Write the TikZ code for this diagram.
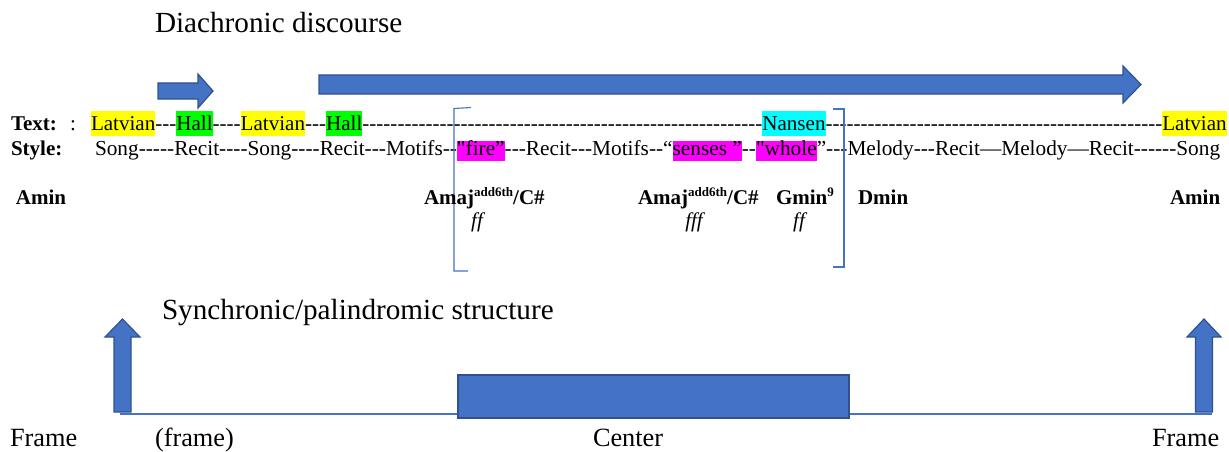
\documentclass[tikz,border=0pt]{standalone}
\usepackage{fontspec}
\setmainfont{Liberation Serif}[Ligatures={TeXOff,CommonOff}]
\definecolor{blu}{HTML}{4472C4}
\definecolor{bluedge}{HTML}{2F528F}
\definecolor{hlY}{HTML}{FFFF00}
\definecolor{hlG}{HTML}{00FF00}
\definecolor{hlC}{HTML}{00FFFF}
\definecolor{hlM}{HTML}{FF00FF}
\ExplSyntaxOn
\cs_new:Npn \myhy #1 {\prg_replicate:nn{#1}{-}}
\ExplSyntaxOff
\newcommand\hlT[2]{{\setlength\fboxsep{0pt}\colorbox{#1}{\rule[-5.2pt]{0pt}{25pt}#2}}}
\newcommand\hlS[2]{{\setlength\fboxsep{0pt}\colorbox{#1}{\rule[-5.5pt]{0pt}{20pt}#2}}}
\newcommand\supx[1]{\raisebox{8pt}{\fontsize{13}{13}\selectfont #1}}
\tikzset{
  txt/.style={anchor=base west, inner sep=0pt, outer sep=0pt},
  rowT/.style={txt, font=\fontsize{21.07}{25}\selectfont},
  rowS/.style={txt, font=\fontsize{21.3}{25}\selectfont},
  lab/.style={txt, font=\fontsize{21}{25}\selectfont\bfseries},
  dyn/.style={anchor=base, inner sep=0pt, font=\fontsize{21}{25}\selectfont\itshape},
  title/.style={txt, font=\fontsize{29.2}{34}\selectfont},
  foot/.style={txt, font=\fontsize{26.3}{30}\selectfont},
  blk/.style={fill=blu, draw=bluedge, line width=1.2pt, line join=miter},
  brk/.style={draw=blu, line width=1.1pt},
  baseline/.style={draw=blu, line width=2pt}
}
\begin{document}
\begin{tikzpicture}[x=1pt,y=-1pt]
\useasboundingbox (0,0) rectangle (1229,452);
% titles
\node[title] (dia) at (155,33) {Diachronic discourse};
\node[title] (syn) at (162,319) {Synchronic/palindromic structure};
% top arrows
\draw[blk] (158,83) -- (198,83) -- (198,74) -- (213,91) -- (198,108) -- (198,99) -- (158,99) -- cycle;
\draw[blk] (319,75) -- (1123,75) -- (1123,66) -- (1141,84.5) -- (1123,103) -- (1123,94) -- (319,94) -- cycle;
% rows
\node[lab] (textlab) at (11,130.5) {Text:};
\node[rowT] (colon) at (70,130.5) {:};
\node[rowT] (textrow) at (91,130.5) {\hlT{hlY}{Latvian}\myhy{3}\hlT{hlG}{Hall}\myhy{4}\hlT{hlY}{Latvian}\myhy{3}\hlT{hlG}{Hall}\myhy{57}\hlT{hlC}{Nansen}\myhy{48}\hlT{hlY}{Latvian}};
\node[lab] (stylelab) at (11,155.5) {Style:};
\node[rowS] (stylerow) at (95,155.5) {Song\myhy{5}Recit\myhy{4}Song\myhy{4}Recit\myhy{3}Motifs\myhy{2}\hlS{hlM}{"fire”}\myhy{3}Recit\myhy{3}Motifs\myhy{2}“\hlS{hlM}{senses ”}\myhy{2}\hlS{hlM}{"whole}”\myhy{3}Melody\myhy{3}Recit—Melody—Recit\myhy{6}Song};
% brackets
\draw[brk] (471,107.5) -- (454,108.5) -- (454,271) -- (468,271);
\draw[brk] (833,109) -- (844,109) -- (844,267) -- (833,267);
% chords
\node[lab] (amin1) at (16,204) {Amin};
\node[lab] (amaj1) at (424,204) {Amaj\supx{add6th}/C\#};
\node[lab] (amaj2) at (638,204) {Amaj\supx{add6th}/C\#};
\node[lab] (gmin) at (776,204) {Gmin\supx{9}};
\node[lab] (dmin) at (858,204) {Dmin};
\node[lab] (amin2) at (1170,204) {Amin};
\node[dyn] (ff1) at (477,227) {ff};
\node[dyn] (fff) at (694,227) {fff};
\node[dyn] (ff2) at (799,227) {ff};
% bottom structure
\coordinate (bl) at (120,414);
\coordinate (br) at (1212,414);
\draw[baseline] (bl) -- (br);
\draw[blk] (458,375) rectangle (849,418);
\draw[blk] (114,412) -- (114,337) -- (105,337) -- (122.5,319) -- (140,337) -- (131,337) -- (131,412) -- cycle;
\draw[blk] (1195.5,412) -- (1195.5,337) -- (1187,337) -- (1204,319) -- (1221,337) -- (1212.5,337) -- (1212.5,412) -- cycle;
% footer labels
\node[foot] (f1) at (10,446) {Frame};
\node[foot] (f2) at (155,446) {(frame)};
\node[foot] (f3) at (593,446) {Center};
\node[foot] (f4) at (1152,446) {Frame};
\end{tikzpicture}
\end{document}
